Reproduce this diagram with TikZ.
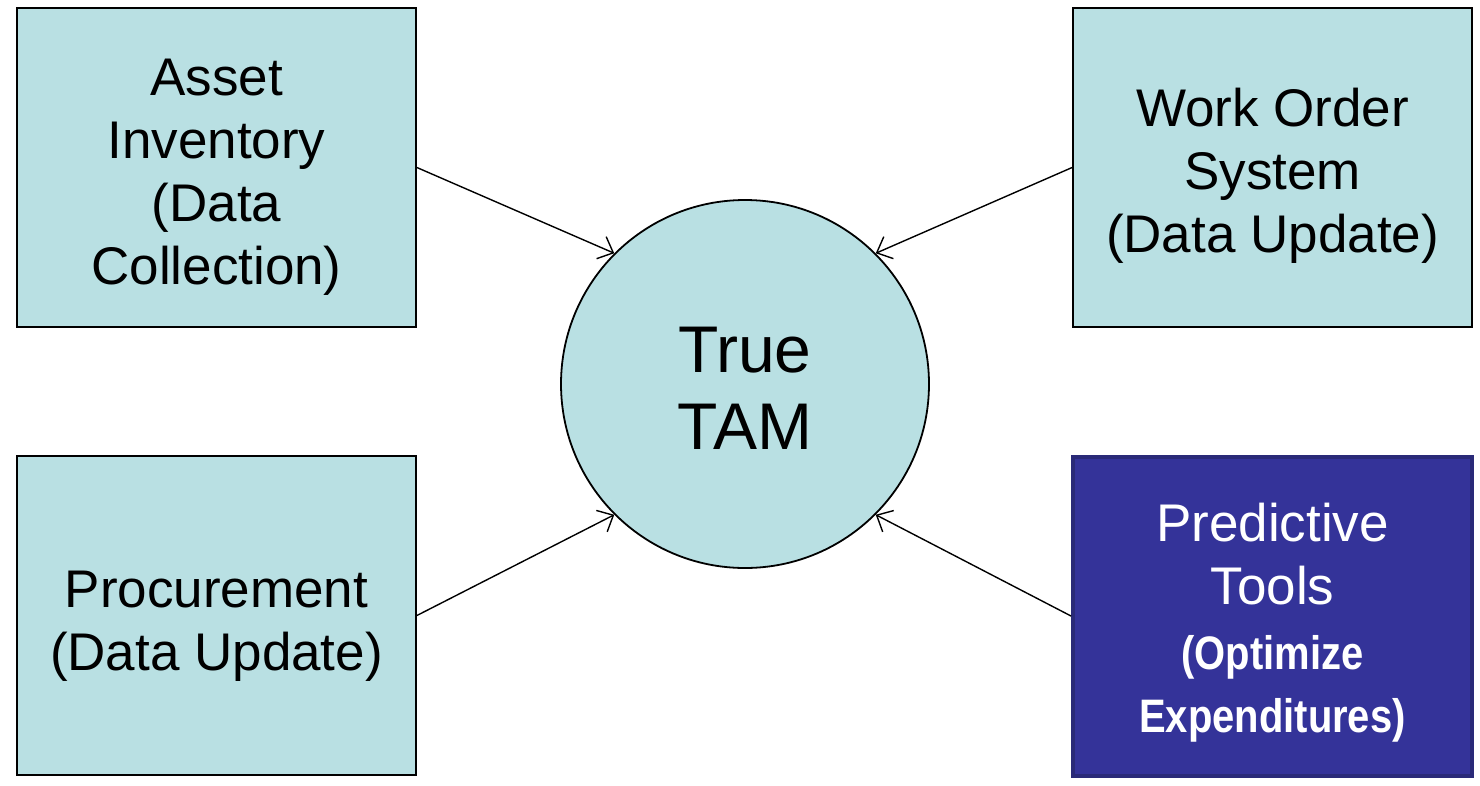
\documentclass[tikz,border=0pt]{standalone}
\usepackage{fontspec}
\setmainfont{Liberation Sans}
\usetikzlibrary{arrows.meta}
\definecolor{paleteal}{HTML}{B9E0E3}
\definecolor{deepindigo}{HTML}{343399}
\definecolor{indigoedge}{HTML}{2A2A78}
\tikzset{
  box/.style={draw=black, line width=1.8pt, fill=paleteal, minimum width=399pt,
    minimum height=319pt, inner sep=0pt, align=center,
    font=\fontsize{53}{63}\selectfont},
  darkbox/.style={box, draw=indigoedge, line width=4pt, fill=deepindigo, text=white},
  hub/.style={circle, draw=black, line width=1.8pt, fill=paleteal, minimum size=368pt,
    inner sep=0pt, align=center, font=\fontsize{66}{77}\selectfont},
  feed/.style={line width=1.4pt, -{Straight Barb[length=13pt,width=24pt,line width=1.4pt]}}
}
% extra head room on the first line pushes a text block down a little
\newcommand{\topstrut}[1]{\rule{0pt}{#1}}
\newcommand{\condensedline}[1]{\scalebox{0.85}[1]{\bfseries\fontsize{47}{65}\selectfont #1}}
\begin{document}
\begin{tikzpicture}[x=1pt, y=-1pt]
  \useasboundingbox (0,0) rectangle (1480,785);
  \node[hub] (tam) at (745,384) {\topstrut{54pt}True\\TAM};
  \node[box] (asset) at (216.5,167.5) {\topstrut{55pt}Asset\\Inventory\\(Data\\Collection)};
  \node[box] (work) at (1272.5,167.5) {\topstrut{55pt}Work Order\\System\\(Data Update)};
  \node[box] (proc) at (216.5,615.5) {\topstrut{57pt}Procurement\\(Data Update)};
  \node[darkbox] (pred) at (1272.5,616) {\topstrut{52pt}Predictive\\Tools\\[2pt]
    \condensedline{(Optimize}\\
    \condensedline{Expenditures)}};
  \draw[feed] (asset.east) -- (tam.135);
  \draw[feed] (work.west) -- (tam.45);
  \draw[feed] (proc.east) -- (tam.225);
  \draw[feed] (pred.west) -- (tam.315);
\end{tikzpicture}
\end{document}
